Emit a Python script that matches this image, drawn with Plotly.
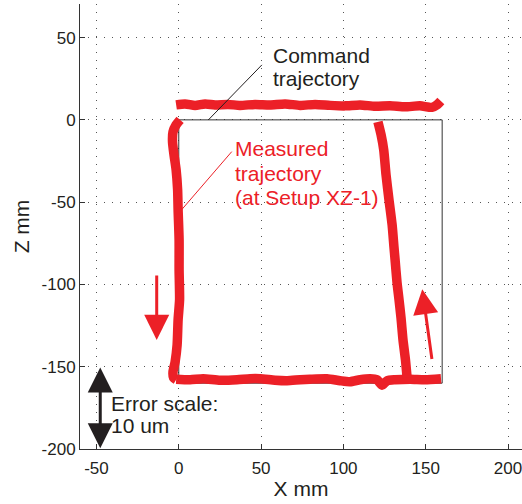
import plotly.graph_objects as go

# ---------------- data ----------------
cmd_x = [0, 160, 160, 0, 0]
cmd_z = [0, 0, -160, -160, 0]

left_x = [0.8, -1.6, -3.5, -3.8, -2.9, -1.6, -0.7, -0.4, 0.2, 0.2, 0.5, -0.4, -1.0, -2.2, -3.5, -3.2, -1.6]
left_z = [0, -3.0, -7.3, -13.4, -21.3, -30.4, -42.5, -54.7, -72.9, -91.1, -109.3, -121.5, -136.7, -147.0, -153.1, -156.7, -157.9]

bottom_x = [-1.6, 6.9, 14.8, 25.1, 35.4, 43.3, 49.4, 58.5, 65.8, 73.7, 79.7, 90.1, 98.0, 104.0, 110.1, 116.2, 120.4, 123.5, 126.5, 131.4, 140.5, 149.6, 159.3]
bottom_z = [-157.6, -157.9, -157.3, -158.2, -157.9, -157.3, -157.3, -158.2, -158.5, -157.9, -157.6, -157.3, -158.5, -159.1, -157.9, -157.3, -157.9, -161.2, -158.5, -157.9, -157.6, -157.9, -157.3]

right_x = [138.7, 137.7, 136.2, 135.0, 133.8, 132.6, 131.4, 130.7, 129.6, 127.7, 125.9, 124.5, 122.9, 121.0]
right_z = [-156.7, -145.8, -133.6, -120.3, -109.3, -99.0, -85.0, -77.0, -63.8, -48.6, -33.4, -18.2, -9.1, -1.2]

top_x = [-1.6, 3.8, 9.9, 16.0, 22.0, 29.9, 37.2, 46.3, 55.4, 64.6, 73.7, 82.8, 91.9, 101.0, 110.1, 119.2, 128.3, 137.4, 146.5, 153.8, 156.8, 159.2]
top_z = [9.1, 9.7, 8.8, 9.7, 9.1, 9.4, 8.8, 9.4, 9.1, 9.7, 8.8, 9.4, 8.8, 8.5, 9.1, 8.2, 8.5, 7.9, 8.5, 7.6, 9.1, 11.5]

# pointer lines (from label to trajectory)
cmd_ptr_x = [50.5, 18.0]
cmd_ptr_z = [33.4, 0.0]
meas_ptr_x = [32.2, 0.8]
meas_ptr_z = [-19.3, -55.7]

# direction arrows: (tail -> tip)
down_arrow = dict(tail=(-13.4, -93.6), tip=(-13.4, -133.7))
up_arrow = dict(tail=(153.9, -146.2), tip=(147.9, -102.9))
scale_arrow = dict(tail=(-47.7, -149.5), tip=(-47.7, -199.5))

x_tick_vals = [-50, 0, 50, 100, 150, 200]
x_tick_text = ["-50", "0", "50", "100", "150", "200"]
y_tick_vals = [50, 0, -50, -100, -150, -200]
y_tick_text = ["50", "0", "-50", "-100", "-150", "-200"]

cmd_label = ["Command", "trajectory"]
cmd_label_pos = [(56.3, 39.0), (56.3, 24.9)]
meas_label = ["Measured", "trajectory", "(at Setup XZ-1)"]
meas_label_pos = [(32.7, -17.4), (32.7, -32.3), (32.7, -47.2)]
scale_label = ["Error scale:", "10 um"]
scale_label_pos = [(-42.3, -172.6), (-42.3, -185.7)]

RED = "#EC2027"
DARK = "#231F20"
FONT = "Liberation Sans, Arial, sans-serif"

# ---------------- figure ----------------
def joined(*segs):
    xs, zs = [], []
    for sx, sz in segs:
        xs += list(sx) + [None]
        zs += list(sz) + [None]
    return xs[:-1], zs[:-1]

mx, mz = joined((left_x, left_z), (bottom_x, bottom_z), (right_x, right_z), (top_x, top_z))

fig = go.Figure()
fig.add_trace(go.Scatter(x=cmd_x, y=cmd_z, mode="lines",
                         line=dict(color="#333333", width=1), hoverinfo="skip"))
fig.add_trace(go.Scatter(x=mx, y=mz, mode="lines", connectgaps=False,
                         line=dict(color=RED, width=9.5, shape="spline", smoothing=0.6),
                         hoverinfo="skip"))
fig.add_trace(go.Scatter(x=cmd_ptr_x, y=cmd_ptr_z, mode="lines",
                         line=dict(color=DARK, width=1), hoverinfo="skip"))
fig.add_trace(go.Scatter(x=meas_ptr_x, y=meas_ptr_z, mode="lines",
                         line=dict(color=RED, width=1), hoverinfo="skip"))

annotations = []
for arr, col, both in [(down_arrow, RED, False), (up_arrow, RED, False), (scale_arrow, DARK, True)]:
    a = dict(x=arr["tip"][0], y=arr["tip"][1], ax=arr["tail"][0], ay=arr["tail"][1],
             xref="x", yref="y", axref="x", ayref="y", text="", showarrow=True,
             arrowhead=2, arrowsize=1.67, arrowwidth=3, arrowcolor=col,
             standoff=0, startstandoff=0)
    if both:
        a.update(arrowside="end+start", startarrowhead=2, startarrowsize=1.67)
    annotations.append(a)

for labels, poss, col in [(cmd_label, cmd_label_pos, DARK), (meas_label, meas_label_pos, RED),
                          (scale_label, scale_label_pos, DARK)]:
    for t, (px, pz) in zip(labels, poss):
        annotations.append(dict(x=px, y=pz, xref="x", yref="y", text=t, showarrow=False,
                                xanchor="left", yanchor="middle",
                                font=dict(family=FONT, size=21, color=col)))

axis_common = dict(showgrid=True, gridcolor="#555555", griddash="1px,7px", gridwidth=1,
                   zeroline=False, showline=True, linecolor="#333333", linewidth=1,
                   ticks="inside", ticklen=5, tickcolor="#333333", mirror=False,
                   automargin=False, ticklabeloverflow="allow",
                   tickfont=dict(family=FONT, size=17, color=DARK))

fig.update_layout(
    width=522, height=504, autosize=False,
    margin=dict(l=80, r=0, t=4, b=55),
    paper_bgcolor="white", plot_bgcolor="white",
    showlegend=False,
    annotations=annotations,
    xaxis=dict(range=[-60, 208.5], tickmode="array", tickvals=x_tick_vals, ticktext=x_tick_text,
               ticklabelstandoff=4,
               title=dict(text="X mm", font=dict(family=FONT, size=21, color=DARK), standoff=3),
               **axis_common),
    yaxis=dict(range=[-200, 70.4], tickmode="array", tickvals=y_tick_vals, ticktext=y_tick_text,
               title=dict(text="Z mm", font=dict(family=FONT, size=21, color=DARK), standoff=6),
               **axis_common),
)

fig.write_html("out.html", config={"displayModeBar": False},
               post_script="document.body.style.margin='0';document.body.style.overflow='hidden';")
